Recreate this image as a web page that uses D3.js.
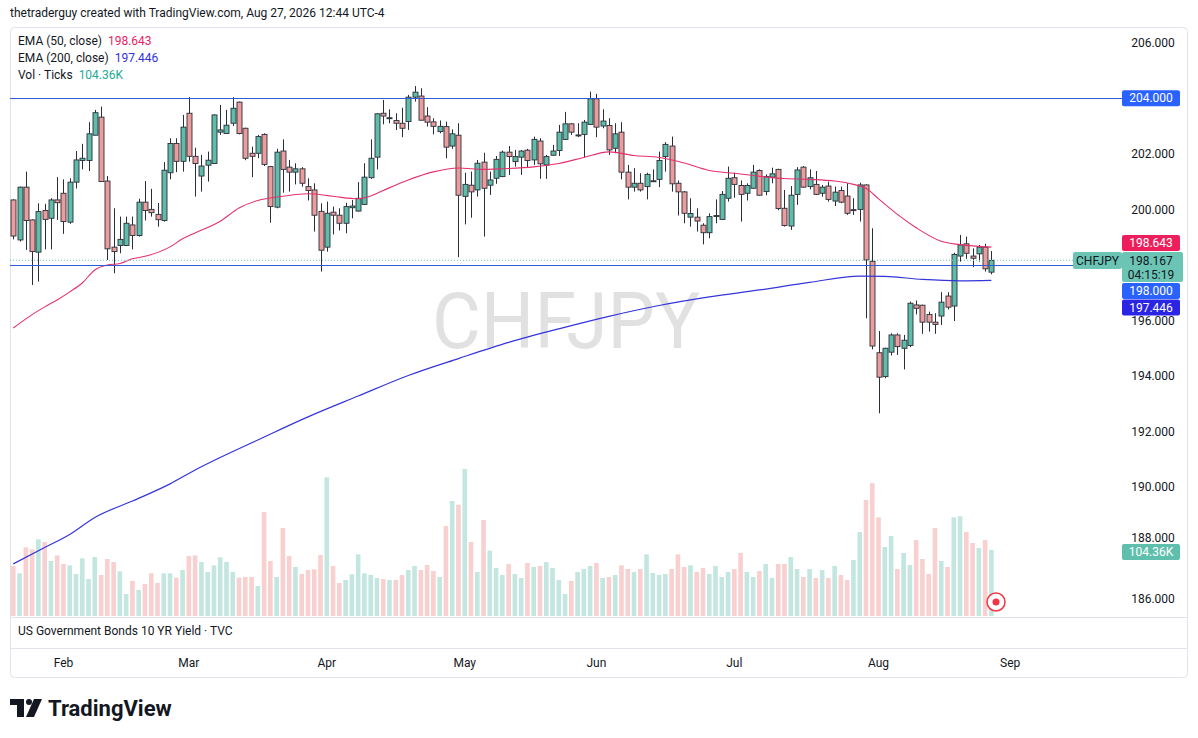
<!DOCTYPE html>
<html>

<head>
    <title>CHFJPY</title>
    <script type="text/javascript" src="https://d3js.org/d3.v7.min.js"></script>
    <style>
        body { margin: 0; background: #ffffff; }
        svg text { font-family: Roboto, "Liberation Sans", sans-serif; fill: #131722; }
    </style>
</head>

<body>
    <svg id="chart" width="1198" height="738"></svg>

    <script>
        // daily candles, Jan 21 -> Aug 27
        const opens = [200.34, 198.90, 200.80, 199.62, 198.46, 199.96, 199.68, 200.34, 200.58, 199.54,
            200.98, 201.76, 201.76, 202.67, 203.32, 201.02, 198.64, 198.70, 198.70, 199.44,
            199.06, 200.26, 200.00, 199.82, 199.60, 201.32, 202.37, 201.73, 203.46, 201.91,
            201.20, 201.59, 201.65, 202.78, 202.73, 203.10, 203.86, 202.92, 202.02, 202.02,
            202.70, 201.54, 200.08, 202.10, 201.52, 201.34, 201.46, 200.82, 200.70, 199.93,
            198.64, 199.90, 199.79, 199.50, 200.06, 199.94, 200.18, 201.14, 201.88, 203.46,
            203.28, 203.20, 203.10, 203.16, 204.04, 204.08, 203.36, 203.15, 202.80, 202.98,
            202.28, 202.67, 200.47, 200.87, 200.70, 201.70, 200.87, 201.12, 201.18, 202.06,
            201.72, 201.88, 202.13, 201.78, 202.46, 201.60, 201.95, 202.12, 202.52, 203.08,
            202.66, 202.70, 203.06, 203.98, 203.00, 203.02, 202.20, 202.78, 201.34, 200.80,
            200.94, 200.82, 201.01, 201.08, 201.90, 202.28, 200.94, 200.63, 199.72, 199.72,
            199.43, 199.16, 199.76, 199.64, 200.40, 201.14, 200.86, 200.58, 200.76, 201.40,
            200.64, 201.16, 201.44, 200.04, 199.40, 200.54, 201.52, 200.82, 200.90, 200.58,
            200.84, 200.30, 200.68, 200.48, 199.97, 200.00, 200.88, 198.13, 194.84, 193.98,
            194.86, 195.48, 195.00, 195.10, 196.56, 196.55, 196.22, 195.94, 196.16, 196.88,
            196.52, 198.32, 198.76, 198.32, 198.40, 198.64, 197.74];
        const highs = [200.36, 200.82, 201.36, 199.64, 200.22, 200.20, 200.40, 201.16, 201.08, 201.12,
            202.10, 202.36, 203.14, 203.58, 203.70, 201.20, 200.04, 199.74, 199.74, 199.74,
            200.38, 201.02, 200.74, 200.23, 201.70, 202.56, 202.56, 203.40, 204.04, 202.22,
            201.96, 202.08, 203.42, 203.76, 203.58, 204.04, 203.88, 202.94, 202.26, 202.68,
            202.74, 201.56, 202.18, 202.52, 201.78, 201.66, 201.52, 201.12, 200.94, 200.22,
            200.28, 200.10, 200.04, 200.24, 200.34, 200.98, 201.66, 202.52, 203.46, 203.94,
            203.60, 203.46, 203.66, 204.12, 204.44, 204.36, 203.68, 203.28, 203.20, 203.16,
            202.88, 203.10, 201.32, 201.36, 201.78, 202.04, 201.36, 201.92, 202.12, 202.28,
            202.14, 202.14, 202.18, 202.62, 202.56, 201.96, 202.32, 203.04, 203.51, 203.10,
            203.10, 203.22, 204.24, 204.16, 203.60, 203.28, 203.10, 203.14, 201.60, 201.48,
            201.30, 201.32, 201.44, 202.08, 202.42, 202.62, 201.04, 200.66, 200.40, 200.04,
            199.50, 199.86, 200.36, 200.66, 201.54, 201.32, 201.04, 200.94, 201.60, 201.44,
            201.26, 201.50, 201.46, 200.70, 200.84, 201.52, 201.56, 201.44, 201.38, 200.88,
            201.00, 200.82, 200.82, 200.94, 200.40, 200.96, 200.90, 199.32, 195.62, 195.02,
            195.54, 195.54, 195.48, 196.68, 196.72, 196.57, 196.32, 196.26, 197.02, 197.02,
            198.44, 199.08, 199.02, 198.60, 198.72, 198.76, 198.50];
        const lows = [198.92, 198.84, 198.54, 197.28, 197.40, 198.56, 198.56, 199.62, 199.12, 199.48,
            200.75, 201.44, 201.38, 202.67, 201.00, 198.18, 197.70, 198.42, 198.68, 198.56,
            199.02, 199.60, 199.74, 199.38, 199.56, 201.08, 201.34, 201.36, 201.72, 200.46,
            200.64, 201.00, 201.65, 202.68, 202.73, 203.00, 202.70, 201.77, 201.16, 201.84,
            201.56, 199.52, 200.04, 200.60, 200.64, 200.90, 200.82, 200.32, 199.20, 197.76,
            198.48, 199.10, 199.24, 199.14, 199.68, 199.92, 200.16, 201.10, 201.44, 203.06,
            203.10, 202.86, 202.60, 202.86, 203.88, 203.20, 202.98, 202.70, 202.74, 201.84,
            202.18, 198.28, 199.46, 199.70, 200.46, 199.02, 200.52, 200.92, 201.16, 201.24,
            201.54, 201.24, 201.52, 201.60, 201.10, 201.10, 201.93, 201.92, 202.50, 202.68,
            202.60, 201.88, 203.04, 202.60, 202.92, 201.96, 202.02, 201.08, 200.36, 200.64,
            200.64, 200.36, 201.00, 200.80, 201.36, 200.64, 199.78, 199.50, 199.38, 199.20,
            198.74, 198.96, 199.50, 199.62, 200.28, 200.42, 199.56, 200.32, 200.74, 200.50,
            200.51, 200.94, 199.97, 199.38, 199.26, 200.16, 200.78, 200.72, 200.52, 200.46,
            200.28, 200.12, 200.22, 199.80, 199.80, 199.56, 196.08, 194.96, 192.66, 193.92,
            194.74, 194.76, 194.24, 195.04, 196.22, 195.52, 195.60, 195.52, 195.84, 196.40,
            195.98, 198.12, 198.22, 197.92, 198.12, 197.76, 197.66];
        const closes = [199.04, 200.80, 199.60, 198.48, 199.92, 199.64, 200.34, 200.24, 199.56, 200.98,
            201.78, 201.84, 202.72, 203.48, 201.00, 198.58, 198.48, 198.92, 199.50, 199.06,
            200.26, 199.96, 199.88, 199.63, 201.41, 202.37, 201.73, 202.96, 201.91, 201.65,
            201.56, 201.77, 203.40, 202.86, 203.03, 203.64, 202.73, 201.84, 201.91, 202.62,
            201.62, 200.10, 202.06, 201.44, 201.34, 201.46, 200.94, 200.68, 199.79, 198.53,
            199.86, 199.79, 199.50, 200.10, 200.12, 200.40, 201.16, 201.84, 203.44, 203.36,
            203.30, 203.10, 202.92, 204.04, 204.22, 203.21, 203.14, 202.99, 202.99, 202.24,
            202.72, 200.51, 200.90, 200.63, 201.66, 200.76, 201.06, 201.80, 202.06, 201.90,
            201.90, 202.10, 201.76, 202.52, 201.64, 201.90, 202.10, 202.78, 203.08, 202.78,
            202.68, 203.14, 203.98, 202.96, 203.18, 202.14, 202.72, 201.34, 200.80, 200.94,
            200.70, 201.26, 201.03, 201.76, 202.34, 200.92, 200.63, 199.86, 199.85, 199.58,
            199.16, 199.74, 199.78, 200.54, 201.12, 200.90, 200.54, 200.86, 201.34, 200.51,
            201.18, 201.28, 200.03, 199.42, 200.51, 201.42, 200.80, 201.14, 200.54, 200.80,
            200.36, 200.62, 200.26, 199.86, 199.99, 200.88, 198.18, 195.08, 193.96, 195.00,
            195.48, 195.06, 195.29, 196.62, 196.44, 195.94, 195.94, 195.86, 196.66, 196.48,
            198.38, 198.72, 198.42, 198.24, 198.64, 197.86, 198.167];
        // volume in thousands of ticks
        const volumes = [79.1, 67.5, 108.6, 105.4, 121.2, 117.0, 87.0, 95.9, 82.2, 80.1,
            66.4, 91.2, 58.5, 93.3, 64.8, 90.1, 85.4, 70.6, 34.8, 55.3,
            41.1, 50.6, 67.5, 52.2, 67.5, 67.5, 60.6, 72.7, 94.9, 95.9,
            85.4, 69.6, 80.1, 92.8, 85.4, 69.6, 60.6, 61.7, 61.7, 47.4,
            164.4, 87.0, 61.7, 139.1, 94.9, 77.5, 66.4, 72.7, 73.8, 96.4,
            219.2, 79.1, 52.2, 56.9, 65.9, 97.5, 67.5, 64.8, 60.1, 58.5,
            56.9, 56.9, 64.8, 72.7, 79.1, 72.7, 80.6, 71.1, 61.7, 142.3,
            181.8, 176.0, 232.4, 117.0, 69.6, 151.8, 103.3, 75.9, 64.8, 82.2,
            66.4, 60.1, 83.8, 77.5, 79.1, 85.4, 75.9, 56.9, 34.8, 55.3,
            69.6, 74.3, 79.1, 83.8, 60.1, 61.7, 64.8, 80.1, 74.3, 69.6,
            74.3, 97.5, 68.0, 64.8, 66.4, 74.3, 97.5, 77.5, 80.1, 69.6,
            75.9, 66.4, 79.1, 61.7, 69.6, 74.3, 99.6, 69.6, 61.7, 71.1,
            82.2, 60.1, 82.2, 82.2, 93.3, 74.3, 61.7, 74.3, 60.1, 72.7,
            60.1, 79.1, 64.8, 56.9, 88.5, 132.8, 183.4, 210.3, 156.0, 109.1,
            126.5, 74.3, 99.6, 80.6, 120.2, 90.1, 66.4, 139.1, 87.0, 77.5,
            156.0, 157.6, 132.8, 115.4, 107.5, 120.2, 104.36];

        // EMA readings taken at some candles (candle index, value)
        const ema50Idx = [0, 2, 5, 7, 9, 11, 13, 15, 17, 19, 21, 25, 27, 29, 33, 36, 39, 43, 47, 51,
            55, 57, 59, 63, 67, 71, 75, 79, 83, 87, 91, 95, 99, 103, 107, 111, 115, 119, 123, 127,
            131, 134, 136, 138, 141, 144, 148, 151, 156];
        const ema50Val = [195.73, 196.06, 196.49, 196.74, 197.03, 197.35, 197.82, 198.00, 198.05, 198.22,
            198.31, 198.65, 198.94, 199.15, 199.57, 200.05, 200.32, 200.47, 200.56, 200.47,
            200.38, 200.48, 200.68, 201.06, 201.35, 201.49, 201.44, 201.47, 201.53, 201.65,
            201.87, 202.07, 201.94, 201.87, 201.67, 201.40, 201.30, 201.19, 201.11, 201.08,
            201.02, 200.90, 200.76, 200.38, 199.82, 199.34, 198.85, 198.73, 198.643];
        const ema200Idx = [0, 5, 9, 13, 19, 25, 29, 33, 39, 47, 55, 63, 71, 79, 87, 95, 103, 111, 119, 127,
            135, 139, 145, 151, 156];
        const ema200Val = [187.24, 187.83, 188.30, 188.91, 189.50, 190.12, 190.62, 191.07, 191.70, 192.53,
            193.28, 194.02, 194.63, 195.21, 195.70, 196.15, 196.54, 196.85, 197.10, 197.37,
            197.60, 197.59, 197.48, 197.43, 197.446];

        const monthLabels = ["Feb", "Mar", "Apr", "May", "Jun", "Jul", "Aug", "Sep"];
        const monthStart = [8, 28, 50, 72, 93, 115, 138, 159];
        const priceTicks = [206, 202, 200, 196, 194, 192, 190, 188, 186];
        const hLines = [204, 198];
        const lastPrice = 198.167;

        const svg = d3.select('#chart');
        const upFill = "#5fbca8", downFill = "#eb9d9d", edge = "#2a2e39";

        const x = d3.scaleLinear().domain([0, 156]).range([13.3, 991.4]);
        const y = d3.scaleLinear().domain([186, 206]).range([598.3, 42.7]);
        const yv = d3.scaleLinear().domain([0, d3.max(volumes)]).range([616, 469]);

        // header
        svg.append("text").attr("x", 10).attr("y", 17).style("font-size", "12px")
            .text("thetraderguy created with TradingView.com, Aug 27, 2026 12:44 UTC-4");

        // frame and pane separators
        svg.append("rect").attr("x", 10.5).attr("y", 27.5).attr("width", 1177).attr("height", 650)
            .attr("rx", 4).attr("fill", "none").attr("stroke", "#e0e3eb");
        svg.append("line").attr("x1", 10.5).attr("x2", 1187.5).attr("y1", 617.5).attr("y2", 617.5)
            .attr("stroke", "#e0e3eb");
        svg.append("line").attr("x1", 10.5).attr("x2", 1187.5).attr("y1", 648.5).attr("y2", 648.5)
            .attr("stroke", "#e0e3eb");

        // watermark
        svg.append("text").attr("x", 566).attr("y", 348).attr("text-anchor", "middle")
            .attr("textLength", 268).attr("lengthAdjust", "spacingAndGlyphs")
            .style("font-size", "78px").style("fill", "#e1e1e1").text("CHFJPY");

        // volume
        svg.append("g").selectAll("rect").data(volumes).enter().append("rect")
            .attr("x", (d, i) => x(i) - 2.3)
            .attr("width", 4.6)
            .attr("y", d => yv(d))
            .attr("height", d => 616 - yv(d))
            .attr("fill", (d, i) => closes[i] >= opens[i] ? "#c3e6e1" : "#f8d0d0");

        // candles
        const candles = svg.append("g").selectAll("g").data(opens).enter().append("g");
        candles.append("line")
            .attr("x1", (d, i) => Math.round(x(i)) + 0.5)
            .attr("x2", (d, i) => Math.round(x(i)) + 0.5)
            .attr("y1", (d, i) => y(highs[i]))
            .attr("y2", (d, i) => y(lows[i]))
            .attr("stroke", edge);
        candles.append("rect")
            .attr("x", (d, i) => Math.round(x(i)) - 2)
            .attr("width", 5)
            .attr("y", (d, i) => y(Math.max(opens[i], closes[i])))
            .attr("height", (d, i) => Math.max(1, Math.abs(y(opens[i]) - y(closes[i]))))
            .attr("fill", (d, i) => closes[i] >= opens[i] ? upFill : downFill)
            .attr("stroke", edge).attr("stroke-width", 0.9);

        // EMA lines
        const emaLine = d3.line().x(d => x(d[0])).y(d => y(d[1])).curve(d3.curveMonotoneX);
        svg.append("path").datum(d3.zip(ema200Idx, ema200Val)).attr("d", emaLine)
            .attr("fill", "none").attr("stroke", "#3535dc").attr("stroke-width", 1.2);
        svg.append("path").datum(d3.zip(ema50Idx, ema50Val)).attr("d", emaLine)
            .attr("fill", "none").attr("stroke", "#e4316c").attr("stroke-width", 1.1);

        // horizontal levels and last price line
        hLines.forEach(function (p) {
            svg.append("line").attr("x1", 10).attr("x2", 1122)
                .attr("y1", Math.round(y(p)) + 0.5).attr("y2", Math.round(y(p)) + 0.5)
                .attr("stroke", "#2f5bd3").attr("stroke-width", 1);
        });
        svg.append("line").attr("x1", 10).attr("x2", 1073)
            .attr("y1", y(lastPrice)).attr("y2", y(lastPrice))
            .attr("stroke", "#6cc5b4").attr("stroke-dasharray", "1,2");

        // price axis (188 nudged up so it sits above the volume tag)
        svg.append("g").selectAll("text").data(priceTicks).enter().append("text")
            .attr("x", 1153).attr("y", d => d === 188 ? y(d) - 5 : y(d)).attr("dy", "0.35em")
            .attr("text-anchor", "middle").style("font-size", "12px")
            .text(d => d3.format(".3f")(d));

        function tag(cy, txt, bg, fg, w) {
            svg.append("rect").attr("x", 1122).attr("y", cy - 8).attr("width", w || 58).attr("height", 16)
                .attr("rx", 2).attr("fill", bg);
            svg.append("text").attr("x", 1151).attr("y", cy).attr("dy", "0.35em")
                .attr("text-anchor", "middle").style("font-size", "12px").style("fill", fg).text(txt);
        }
        tag(y(204), "204.000", "#2962ff", "#ffffff");
        tag(243, d3.format(".3f")(ema50Val[ema50Val.length - 1]), "#ec1f5c", "#ffffff");
        // current price
        svg.append("rect").attr("x", 1073).attr("y", 252).attr("width", 49).attr("height", 17)
            .attr("rx", 2).attr("fill", "#6cc5b4");
        svg.append("text").attr("x", 1097.5).attr("y", 260.5).attr("dy", "0.35em").attr("text-anchor", "middle")
            .style("font-size", "12px").text("CHFJPY");
        svg.append("rect").attr("x", 1122).attr("y", 252).attr("width", 61).attr("height", 30)
            .attr("rx", 2).attr("fill", "#6cc5b4");
        svg.append("text").attr("x", 1151).attr("y", 261).attr("dy", "0.35em").attr("text-anchor", "middle")
            .style("font-size", "12px").text(d3.format(".3f")(lastPrice));
        svg.append("text").attr("x", 1151).attr("y", 275).attr("dy", "0.35em").attr("text-anchor", "middle")
            .style("font-size", "12px").text("04:15:19");
        tag(291, "198.000", "#2962ff", "#ffffff");
        tag(307.5, d3.format(".3f")(ema200Val[ema200Val.length - 1]), "#2b24e4", "#ffffff");
        tag(552, d3.format(".2f")(volumes[volumes.length - 1]) + "K", "#5fbfad", "#ffffff");

        // time axis
        svg.append("g").selectAll("text").data(monthLabels).enter().append("text")
            .attr("x", (d, i) => x(monthStart[i])).attr("y", 663).attr("dy", "0.35em")
            .attr("text-anchor", "middle").style("font-size", "12px").text(d => d);

        // lower pane title
        svg.append("text").attr("x", 18).attr("y", 631).attr("dy", "0.35em").style("font-size", "12px")
            .text("US Government Bonds 10 YR Yield \u00b7 TVC");

        // legend
        const legend = [
            ["EMA (50, close)", d3.format(".3f")(ema50Val[ema50Val.length - 1]), "#e91e63"],
            ["EMA (200, close)", d3.format(".3f")(ema200Val[ema200Val.length - 1]), "#3333d6"],
            ["Vol \u00b7 Ticks", d3.format(".2f")(volumes[volumes.length - 1]) + "K", "#22ab94"]
        ];
        legend.forEach(function (l, k) {
            const t = svg.append("text").attr("x", 18).attr("y", 41 + k * 17).attr("dy", "0.35em")
                .style("font-size", "12px");
            t.append("tspan").text(l[0]);
            t.append("tspan").attr("dx", 6).style("fill", l[2]).text(l[1]);
        });

        // recording marker
        svg.append("circle").attr("cx", 996).attr("cy", 602).attr("r", 9)
            .attr("fill", "#ffffff").attr("stroke", "#f23645").attr("stroke-width", 1.5);
        svg.append("circle").attr("cx", 996).attr("cy", 602).attr("r", 3.5).attr("fill", "#f23645");

        // logo
        svg.append("path").attr("d", "M10,699 H24 V717 H17 V705 H10 Z").attr("fill", "#131722");
        svg.append("circle").attr("cx", 29).attr("cy", 702).attr("r", 3).attr("fill", "#131722");
        svg.append("path").attr("d", "M34,699 H42 L34,717 H26 Z").attr("fill", "#131722");
        svg.append("text").attr("x", 48).attr("y", 716).style("font-size", "22px").style("font-weight", "700")
            .text("TradingView");
    </script>
</body>

</html>
